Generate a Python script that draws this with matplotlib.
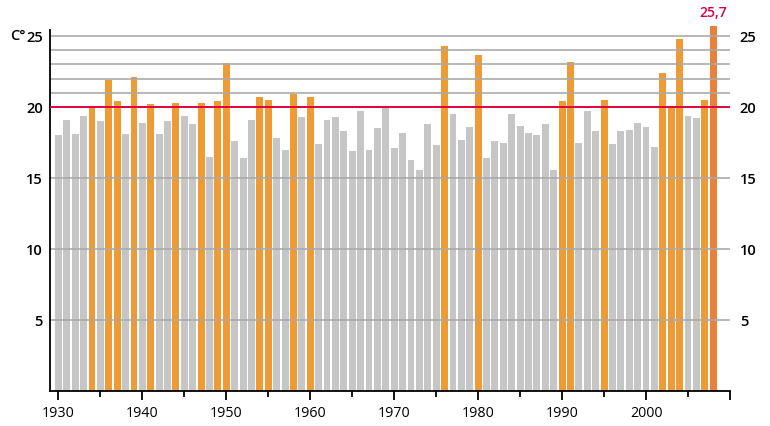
import matplotlib
matplotlib.use("Agg")
import matplotlib.pyplot as plt
from matplotlib.ticker import FixedLocator

years = list(range(1930, 2009))
values = [
    18.0, 19.1, 18.1, 19.4, 20.1, 19.0, 21.9, 20.4, 18.1, 22.1,   # 1930-1939
    18.9, 20.2, 18.1, 19.0, 20.3, 19.4, 18.8, 20.3, 16.5, 20.4,   # 1940-1949
    23.1, 17.6, 16.4, 19.1, 20.7, 20.5, 17.8, 17.0, 20.9, 19.3,   # 1950-1959
    20.7, 17.4, 19.1, 19.3, 18.3, 16.9, 19.7, 17.0, 18.5, 19.9,   # 1960-1969
    17.1, 18.2, 16.3, 15.6, 18.8, 17.3, 24.3, 19.5, 17.7, 18.6,   # 1970-1979
    23.7, 16.4, 17.6, 17.5, 19.5, 18.7, 18.2, 18.0, 18.8, 15.6,   # 1980-1989
    20.4, 23.2, 17.5, 19.7, 18.3, 20.5, 17.4, 18.3, 18.4, 18.9,   # 1990-1999
    18.6, 17.2, 22.4, 20.0, 24.8, 19.4, 19.2, 20.5, 25.7,         # 2000-2008
]
hot_years = [1934, 1936, 1937, 1939, 1941, 1944, 1947, 1949, 1950, 1954,
             1955, 1958, 1960, 1976, 1980, 1990, 1991, 1995, 2002, 2003,
             2004, 2007]
record_year = 2008
record_label = "25,7"
ytick_vals = [5, 10, 15, 20, 25]
minor_grid_vals = [21, 22, 23, 24]
threshold = 20
xmajor = [1930, 1940, 1950, 1960, 1970, 1980, 1990, 2000]
xminor = [1935, 1945, 1955, 1965, 1975, 1985, 1995, 2005]

GRAY = "#c6c6c6"
ORANGE = "#ef9b35"
DARK_ORANGE = "#e8823a"
RED = "#e2003c"
LABEL_RED = "#d4004e"
GRID = "#a9a9a9"

plt.rcParams['font.family'] = ['Open Sans', 'DejaVu Sans']

fig = plt.figure(figsize=(7.7, 4.26), dpi=100)
W, H = 770, 426
left_px, right_px, bottom_px = 50, 730, 391
ax = fig.add_axes([left_px / W, (H - bottom_px) / H, (right_px - left_px) / W, bottom_px / H])

colors = []
for y in years:
    if y == record_year:
        colors.append(DARK_ORANGE)
    elif y in hot_years:
        colors.append(ORANGE)
    else:
        colors.append(GRAY)

ax.bar(years, values, width=0.82, color=colors, zorder=1, linewidth=0)

ax.set_xlim(1929, 2010)
ax.set_ylim(0, 27.54)

for v in ytick_vals + minor_grid_vals:
    if v == threshold:
        continue
    ax.axhline(v, color=GRID, lw=1.3, zorder=2, alpha=0.9)
ax.axhline(threshold, color=RED, lw=1.4, zorder=3)

# spines
for s in ['top', 'right']:
    ax.spines[s].set_visible(False)
ax.spines['left'].set_bounds(0, 25.4)
ax.spines['left'].set_linewidth(1.3)
ax.spines['bottom'].set_linewidth(1.3)

# y labels left
ax.set_yticks(ytick_vals)
ax.set_yticklabels([str(v) for v in ytick_vals], fontsize=10.5, fontweight='semibold')
ax.tick_params(axis='y', length=0, pad=5)

# right labels
ax2 = ax.twinx()
ax2.set_ylim(ax.get_ylim())
ax2.set_yticks(ytick_vals)
ax2.set_yticklabels([str(v) for v in ytick_vals], fontsize=10.5, fontweight='semibold')
ax2.tick_params(axis='y', length=0, pad=7)
for s in ax2.spines.values():
    s.set_visible(False)

# x ticks
ax.xaxis.set_major_locator(FixedLocator(xmajor + [2010]))
ax.set_xticklabels([str(v) for v in xmajor] + [""], fontsize=10.3)
ax.xaxis.set_minor_locator(FixedLocator(xminor))
ax.tick_params(axis='x', which='major', length=6.5, width=1.3, pad=4)
ax.tick_params(axis='x', which='minor', length=4.5, width=1.3)

# unit label
ax.text(-0.058, 25, "C°", transform=ax.get_yaxis_transform(), ha='left', va='center',
        fontsize=10.5, fontweight='semibold')

# record label
rec_val = values[years.index(record_year)]
ax.text(record_year, rec_val + 0.4, record_label, ha='center', va='bottom',
        color=LABEL_RED, fontsize=10, fontweight='semibold')

fig.savefig("out.png", dpi=100)
